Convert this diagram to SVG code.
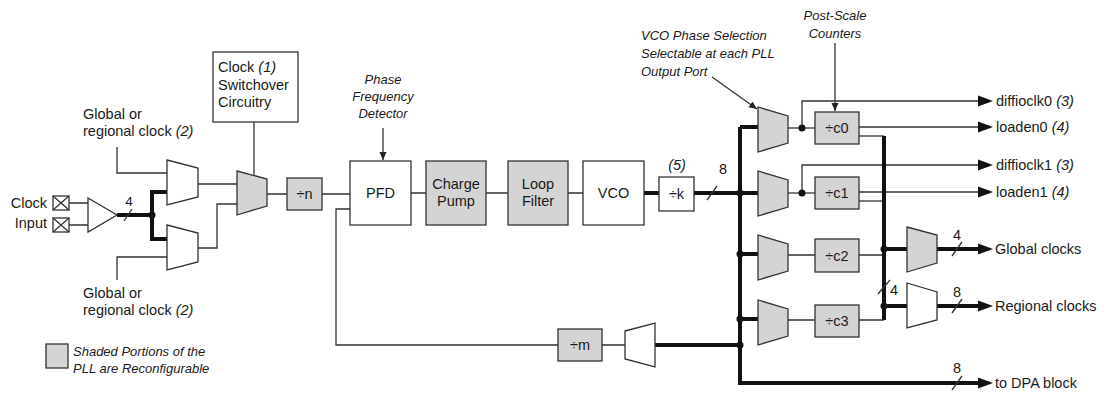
<svg xmlns="http://www.w3.org/2000/svg" width="1108" height="396" viewBox="0 0 1108 396">
<defs>
<style>
text{font-family:"Liberation Sans",Arial,sans-serif;fill:#1a1a1a}
.t{font-size:14.5px}
.c{text-anchor:middle}
.i{font-style:italic}
.a{font-size:13px;font-style:italic}
.box{fill:#fff;stroke:#333;stroke-width:1.3}
.g{fill:#d4d4d4;stroke:#333;stroke-width:1.3}
.ln{fill:none;stroke:#333;stroke-width:1.3}
.bus{fill:none;stroke:#111;stroke-width:4}
.dot{fill:#111}
</style>
<marker id="arr" markerUnits="userSpaceOnUse" markerWidth="16" markerHeight="12" refX="5" refY="6" orient="auto">
<path d="M0,0.5 L15,6 L0,11.5 z" fill="#111"/>
</marker>
<marker id="arrs" markerUnits="userSpaceOnUse" markerWidth="9" markerHeight="8" refX="8" refY="4" orient="auto">
<path d="M0,0.5 L8,4 L0,7.5 z" fill="#222"/>
</marker>
</defs>
<rect width="1108" height="396" fill="#fff"/>

<g id="connectors">
<!-- input side -->
<path class="ln" d="M69,203 H88 M69,225 H88"/>
<path class="bus" d="M117,215 H152 M167,192 H152 V239 H167"/>
<path class="ln" d="M124,221 L132,209"/>
<path class="ln" d="M117,147 V173 H167 M117,280 V257 H167"/>
<path class="ln" d="M198,184 H237 M198,248 H217 V204 H237"/>
<path class="ln" d="M254,122 V175"/>
<path class="ln" d="M267,194 H287 M322,194 H350"/>
<path class="ln" d="M411,193 H426 M486,193 H508 M568,193 H583"/>
<path class="bus" d="M644,193 H659 M694,193 H740"/>
<path class="ln" d="M707,200 L717,186"/>
<path class="ln" d="M383,128 V160" marker-end="url(#arrs)"/>
<!-- feedback -->
<path class="ln" d="M350,209 H336 V345 H558 M602,345 H625"/>
<path class="bus" d="M655,345 H740"/>
<!-- main bus -->
<path class="bus" d="M740,127 V383 H983" marker-end="url(#arr)"/>
<path class="ln" d="M952,390 L962,376"/>
<path class="bus" d="M740,127 H758 M740,193 H758 M740,254 H758 M740,319 H758"/>
<!-- c0 -->
<path class="ln" d="M788,128 H815"/>
<path class="ln" d="M802,128 V101 H983" marker-end="url(#arr)"/>
<path class="ln" d="M859,127 H983" marker-end="url(#arr)"/>
<path class="ln" d="M859,136 H884"/>
<!-- c1 -->
<path class="ln" d="M788,193 H815"/>
<path class="ln" d="M802,193 V165 H983" marker-end="url(#arr)"/>
<path class="ln" d="M859,192 H983" marker-end="url(#arr)"/>
<path class="ln" d="M859,201 H884"/>
<!-- c2 c3 -->
<path class="ln" d="M788,255 H815 M859,255 H884"/>
<path class="ln" d="M788,320 H815 M859,320 H884"/>
<path class="bus" d="M884,136 V320"/>
<path class="ln" d="M878,294 L890,280"/>
<path class="bus" d="M884,249 H907 M884,306 H907"/>
<path class="bus" d="M937,249 H983" marker-end="url(#arr)"/>
<path class="bus" d="M937,306 H983" marker-end="url(#arr)"/>
<path class="ln" d="M952,256 L962,242 M952,313 L962,299"/>
<!-- annotation leaders -->
<path class="ln" d="M835,43 V111" marker-end="url(#arrs)"/>
<path class="ln" d="M712,77 L757,109" marker-end="url(#arrs)"/>
<!-- dots -->
<circle class="dot" cx="152" cy="215" r="3.5"/>
<circle class="dot" cx="740" cy="193" r="3.5"/>
<circle class="dot" cx="740" cy="254" r="3.5"/>
<circle class="dot" cx="740" cy="319" r="3.5"/>
<circle class="dot" cx="740" cy="345" r="3.5"/>
<circle class="dot" cx="802" cy="128" r="3.5"/>
<circle class="dot" cx="802" cy="193" r="3.5"/>
<circle class="dot" cx="884" cy="249" r="3.5"/>
<circle class="dot" cx="884" cy="306" r="3.5"/>
</g>

<g id="clock-input">
<rect class="box" x="53" y="196" width="16" height="14"/>
<path class="ln" d="M53,196 L69,210 M69,196 L53,210"/>
<rect class="box" x="53" y="218" width="16" height="14"/>
<path class="ln" d="M53,218 L69,232 M69,218 L53,232"/>
<text class="t" x="47" y="208" text-anchor="end">Clock</text>
<text class="t" x="47" y="228" text-anchor="end">Input</text>
</g>
<g id="buffer"><path class="box" d="M88,198 L117,215 L88,232 Z"/><text class="t c" x="129" y="206" style="font-size:13.5px">4</text></g>
<g id="mux-a"><path class="box" d="M167,160 L198,168 L198,197 L167,205 Z"/></g>
<g id="mux-b"><path class="box" d="M167,225 L198,233 L198,262 L167,270 Z"/></g>
<g id="global-top"><text class="t" x="83" y="119">Global or</text><text class="t" x="83" y="136">regional clock <tspan class="i">(2)</tspan></text></g>
<g id="global-bottom"><text class="t" x="83" y="298">Global or</text><text class="t" x="83" y="315">regional clock <tspan class="i">(2)</tspan></text></g>
<g id="switchover"><rect class="box" x="213" y="52" width="85" height="70"/>
<text class="t" x="218" y="72">Clock <tspan class="i">(1)</tspan></text>
<text class="t" x="218" y="90">Switchover</text>
<text class="t" x="218" y="107">Circuitry</text></g>
<g id="mux-clk"><path class="g" d="M237,171 L267,179 L267,206 L237,215 Z"/></g>
<g id="div-n"><rect class="g" x="287" y="178" width="35" height="32"/><text class="t c" x="304.5" y="199">÷n</text></g>
<g id="pfd-label"><text class="a c" x="383" y="84">Phase</text><text class="a c" x="383" y="101">Frequency</text><text class="a c" x="383" y="118">Detector</text></g>
<g id="pfd"><rect class="box" x="350" y="161" width="61" height="64"/><text class="t c" x="380.5" y="198">PFD</text></g>
<g id="charge-pump"><rect class="g" x="426" y="161" width="60" height="64"/><text class="t c" x="456" y="189">Charge</text><text class="t c" x="456" y="206">Pump</text></g>
<g id="loop-filter"><rect class="g" x="508" y="161" width="60" height="64"/><text class="t c" x="538" y="189">Loop</text><text class="t c" x="538" y="206">Filter</text></g>
<g id="vco"><rect class="box" x="583" y="161" width="61" height="64"/><text class="t c" x="613.5" y="198">VCO</text></g>
<g id="div-k"><rect class="box" x="659" y="177" width="35" height="34"/><text class="t c" x="676.5" y="199">÷k</text><text class="t c i" x="677" y="170">(5)</text><text class="t c" x="723" y="174">8</text></g>
<g id="div-m"><rect class="g" x="558" y="329" width="44" height="32"/><text class="t c" x="580" y="350">÷m</text></g>
<g id="mux-m"><path class="box" d="M625,331 L655,323 L655,367 L625,359 Z"/></g>
<g id="vco-phase-label"><text class="a" x="641" y="40">VCO Phase Selection</text><text class="a" x="641" y="58">Selectable at each PLL</text><text class="a" x="641" y="76">Output Port</text></g>
<g id="post-scale-label"><text class="a c" x="835" y="20">Post-Scale</text><text class="a c" x="835" y="38">Counters</text></g>
<g id="mux-c0"><path class="g" d="M758,107 L788,116 L788,143 L758,152 Z"/></g>
<g id="mux-c1"><path class="g" d="M758,171 L788,180 L788,207 L758,216 Z"/></g>
<g id="mux-c2"><path class="g" d="M758,235 L788,244 L788,271 L758,280 Z"/></g>
<g id="mux-c3"><path class="g" d="M758,300 L788,309 L788,336 L758,345 Z"/></g>
<g id="c0"><rect class="g" x="815" y="112" width="44" height="32"/><text class="t c" x="837" y="133">÷c0</text></g>
<g id="c1"><rect class="g" x="815" y="177" width="44" height="32"/><text class="t c" x="837" y="198">÷c1</text></g>
<g id="c2"><rect class="g" x="815" y="239" width="44" height="33"/><text class="t c" x="837" y="261">÷c2</text></g>
<g id="c3"><rect class="g" x="815" y="305" width="44" height="32"/><text class="t c" x="837" y="326">÷c3</text></g>
<g id="mux-global"><path class="g" d="M907,227 L937,235 L937,263 L907,272 Z"/></g>
<g id="mux-regional"><path class="box" d="M907,283 L937,292 L937,320 L907,328 Z"/></g>
<g id="outputs">
<text class="t" x="996" y="106">diffioclk0 <tspan class="i">(3)</tspan></text>
<text class="t" x="996" y="132">loaden0 <tspan class="i">(4)</tspan></text>
<text class="t" x="996" y="170">diffioclk1 <tspan class="i">(3)</tspan></text>
<text class="t" x="996" y="197">loaden1 <tspan class="i">(4)</tspan></text>
<text class="t" x="995" y="254">Global clocks</text>
<text class="t" x="995" y="311">Regional clocks</text>
<text class="t" x="995" y="388">to DPA block</text>
<text class="t c" x="957" y="240">4</text>
<text class="t c" x="957" y="297">8</text>
<text class="t c" x="957" y="373">8</text>
<text class="t" x="890" y="295">4</text>
</g>
<g id="legend"><rect class="g" x="46" y="344" width="22" height="24"/>
<text class="a" x="73" y="356">Shaded Portions of the</text>
<text class="a" x="73" y="373">PLL are Reconfigurable</text></g>
</svg>
